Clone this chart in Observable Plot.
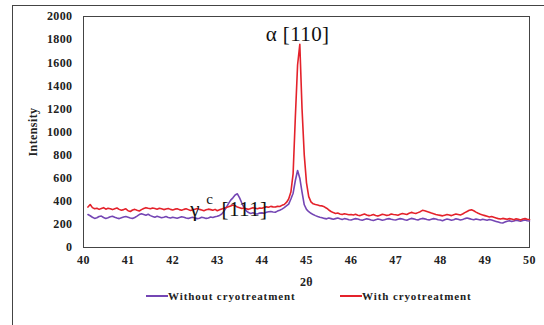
<!DOCTYPE html>
<html>
<head>
<meta charset="utf-8">
<script src="https://cdn.jsdelivr.net/npm/d3@7"></script>
<script src="https://cdn.jsdelivr.net/npm/@observablehq/plot@0.6"></script>
<style>
  html, body { margin: 0; padding: 0; background: #fff; }
  #wrap { position: relative; width: 544px; height: 325px; overflow: hidden; background: #fff; }
  #border { position: absolute; left: 12px; top: 5px; width: 600px; height: 400px; border: 1px solid #444; }
  #chart { position: absolute; left: 0; top: 0; }
  #legend { position: absolute; left: 0; top: 289px; width: 544px; height: 20px;
    font-family: "Liberation Serif", "Times New Roman", serif; font-weight: bold; font-size: 11px; letter-spacing: 0.9px; color: #222; }
  .item { position: absolute; top: 0; display: flex; align-items: center; height: 14px; }
  .swatch { width: 22px; height: 2px; display: inline-block; }
</style>
</head>
<body>
<div id="wrap">
  <div id="border"></div>
  <div id="chart"></div>
  <div id="legend"></div>
</div>
<script>
// Sampling grid of 2θ (degrees)
const xStart = 40.10;
const xStep = 0.05;

// Series names and colours
const seriesNames = ["Without cryotreatment", "With cryotreatment"];
const seriesColors = ["#7446b4", "#e4222b"];

// Intensity without cryotreatment (40.10 ... 50.00, every 0.05)
const withoutCryo = [
  285, 275, 262, 252, 258, 268, 272, 260, 252, 258, 266, 270, 262, 255, 250, 258, 264, 268,
  262, 256, 252, 260, 272, 285, 292, 286, 280, 288, 276, 268, 262, 270, 264, 258, 262, 268, 260, 256,
  262, 258, 254, 260, 266, 262, 256, 252, 258, 262, 256, 250, 254, 262, 258, 252, 256, 264, 260, 266,
  270, 278, 290, 315, 345, 380, 410, 430, 455, 465, 430, 385, 345, 318, 302, 295, 300, 292, 290, 298,
  300, 296, 305, 310, 312, 308, 305, 315, 322, 332, 345, 360, 375, 420, 470, 580, 667, 600, 480, 370,
  330, 310, 296, 285, 276, 268, 262, 258, 252, 248, 255, 250, 244, 250, 256, 248, 242, 250, 246, 240,
  238, 244, 250, 246, 240, 236, 242, 248, 244, 238, 234, 240, 246, 242, 236, 240, 246, 250, 244, 240,
  238, 244, 250, 246, 240, 236, 244, 252, 248, 242, 238, 246, 252, 248, 242, 238, 244, 250, 246, 240,
  238, 232, 240, 246, 242, 236, 240, 248, 244, 238, 242, 250, 256, 250, 244, 240, 246, 242, 238, 244,
  240, 236, 242, 238, 232, 226, 220, 214, 212, 220, 228, 232, 226, 230, 236, 232, 228, 234, 238, 232,
  230
];

// Intensity with cryotreatment (40.10 ... 50.00, every 0.05)
const withCryo = [
  350, 372, 345, 335, 340, 330, 338, 345, 332, 340, 335, 328, 336, 342, 330, 322, 328, 335,
  318, 312, 325, 330, 322, 316, 328, 338, 345, 340, 336, 342, 338, 332, 340, 335, 328, 334, 338, 330,
  325, 332, 336, 328, 322, 330, 336, 328, 320, 326, 332, 338, 330, 324, 318, 326, 332, 328, 322, 330,
  318, 326, 334, 340, 346, 352, 360, 368, 362, 350, 345, 338, 342, 336, 330, 338, 345, 340, 335, 342,
  340, 346, 352, 348, 356, 352, 350, 356, 355, 365, 372, 390, 420, 480, 640, 1130, 1580, 1760, 1200, 800,
  560, 440, 395, 378, 372, 368, 362, 360, 352, 340, 325, 312, 302, 295, 298, 290, 286, 292, 288, 284,
  286, 282, 288, 280, 276, 284, 290, 282, 276, 280, 286, 278, 272, 280, 288, 284, 278, 282, 290, 286,
  284, 280, 288, 294, 290, 286, 296, 304, 298, 294, 302, 310, 322, 318, 312, 306, 298, 292, 286, 282,
  278, 274, 280, 286, 282, 276, 284, 290, 286, 282, 290, 302, 312, 322, 326, 318, 306, 296, 288, 282,
  276, 270, 264, 268, 262, 256, 250, 246, 252, 248, 244, 250, 246, 240, 248, 244, 238, 246, 250, 244,
  242
];

// Axis ticks
const xTicks = [40, 41, 42, 43, 44, 45, 46, 47, 48, 49, 50];
const yTicks = [0, 200, 400, 600, 800, 1000, 1200, 1400, 1600, 1800, 2000];

// Annotations
const annotLabels = ["α [110]", "γ", "c", "[111]"];
const annotX = [44.80, 42.50, 42.83, 43.61];
const annotY = [1850, 330, 420, 330];
const annotSize = [21, 21, 15, 21];

const rows = [];
[withoutCryo, withCryo].forEach((vals, s) => {
  vals.forEach((v, i) => rows.push({ series: seriesNames[s], x: +(xStart + i * xStep).toFixed(2), y: v }));
});

const annots = annotLabels.map((t, i) => ({ t, x: annotX[i], y: annotY[i], size: annotSize[i] }));

const chart = Plot.plot({
  width: 544,
  height: 288,
  marginLeft: 83,
  marginRight: 15,
  marginTop: 16,
  marginBottom: 41,
  style: { fontFamily: "'Liberation Serif', 'Times New Roman', serif", fontWeight: "bold", fontSize: "12px", color: "#222", background: "transparent", letterSpacing: "0.4px" },
  x: { domain: [40, 50], ticks: xTicks, tickFormat: d => String(d), tickSize: 0, tickPadding: 8, label: "2θ", labelAnchor: "center", labelArrow: "none", labelOffset: 38 },
  y: { domain: [0, 2000], ticks: yTicks, tickFormat: d => String(d), tickSize: 0, tickPadding: 11, label: "Intensity", labelAnchor: "center", labelArrow: "none", labelOffset: 55 },
  color: { domain: seriesNames, range: seriesColors },
  marks: [
    Plot.frame({ stroke: "#444", strokeWidth: 1 }),
    Plot.line(rows, { x: "x", y: "y", z: "series", stroke: "series", strokeWidth: 1.6, curve: "linear" }),
    ...annots.map(a => Plot.text([a], { x: "x", y: "y", text: "t", fontSize: a.size, fontWeight: "normal", fill: "#111",
      fontFamily: "'Liberation Serif', 'Times New Roman', serif" }))
  ]
});
document.getElementById("chart").appendChild(chart);

// Legend
const legend = document.getElementById("legend");
const legendLeft = [146, 340];
seriesNames.forEach((name, i) => {
  const item = document.createElement("div");
  item.className = "item";
  item.style.left = legendLeft[i] + "px";
  const sw = document.createElement("span");
  sw.className = "swatch";
  sw.style.background = seriesColors[i];
  const lab = document.createElement("span");
  lab.textContent = name;
  item.appendChild(sw);
  item.appendChild(lab);
  legend.appendChild(item);
});
</script>
</body>
</html>
